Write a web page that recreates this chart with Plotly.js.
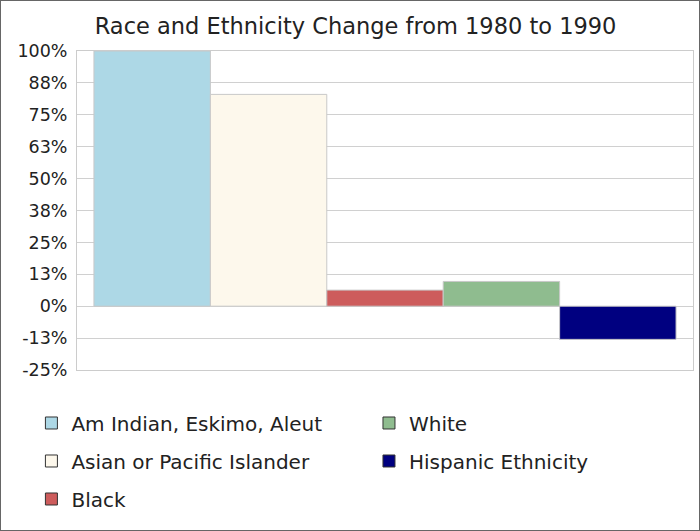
<!DOCTYPE html>
<html>
<head>
<meta charset="utf-8">
<script src="https://cdn.plot.ly/plotly-3.0.1.min.js"></script>
<style>
html,body{margin:0;padding:0;background:#fff;}
#wrap{width:700px;height:531px;box-sizing:border-box;border:1px solid #666;}
#chart{width:698px;height:529px;}
</style>
</head>
<body>
<div id="wrap"><div id="chart"></div></div>
<script>
var categories = ["1980 to 1990"];
var seriesNames = ["Am Indian, Eskimo, Aleut", "Asian or Pacific Islander", "Black", "White", "Hispanic Ethnicity"];
var seriesValues = [100, 83, 6.3, 9.7, -13];
var seriesColors = ["#ADD8E6", "#FDF8EC", "#CD5C5C", "#8FBC8F", "#000080"];
var seriesLegend = ["legend", "legend", "legend", "legend2", "legend2"];
var tickValues = [-25, -12.5, 0, 12.5, 25, 37.5, 50, 62.5, 75, 87.5, 100];
var tickLabels = ["-25%", "-13%", "0%", "13%", "25%", "38%", "50%", "63%", "75%", "88%", "100%"];

var font = "DejaVu Sans, Verdana, sans-serif";
var traces = seriesNames.map(function(name, i){
  return {
    type: "bar",
    name: name,
    x: categories,
    y: [seriesValues[i]],
    marker: {color: seriesColors[i], line: {color: "#c8c8c8", width: 1}},
    showlegend: false,
    hoverinfo: "name+y"
  };
});
// legend-only entries (dark swatch outline), on a hidden overlay axis so they don't affect bar grouping
var legendTraces = seriesNames.map(function(name, i){
  return {
    type: "bar",
    name: name,
    x: categories,
    y: [null],
    xaxis: "x2", yaxis: "y2",
    marker: {color: seriesColors[i], line: {color: "#333333", width: 1}},
    legend: seriesLegend[i],
    legendgroup: "g" + i,
    showlegend: true,
    hoverinfo: "skip"
  };
});

var layout = {
  width: 698, height: 529,
  margin: {l: 76, r: 6, t: 50, b: 160},
  paper_bgcolor: "#fff", plot_bgcolor: "#fff",
  font: {family: font, color: "#222", size: 16},
  title: {text: "Race and Ethnicity Change from 1980 to 1990", font: {family: font, size: 22.5, color: "#222"},
          xref: "container", x: 0.508, xanchor: "center", yref: "container", y: 0.953, yanchor: "middle"},
  barmode: "group",
  bargap: 0.055,
  bargroupgap: 0,
  showlegend: true,
  xaxis: {showticklabels: false, showgrid: false, zeroline: false, showline: true, mirror: true, linecolor: "#cccccc", linewidth: 1, ticks: ""},
  yaxis: {range: [-25, 100], tickmode: "array", tickvals: tickValues, ticktext: tickLabels,
          showgrid: true, gridcolor: "#d0d0d0", gridwidth: 1, zeroline: false,
          showline: true, mirror: true, linecolor: "#cccccc", linewidth: 1,
          ticks: "", ticklabelstandoff: 5, tickfont: {family: font, size: 17.5, color: "#222"}, fixedrange: true},
  xaxis2: {overlaying: "x", visible: false, showgrid: false, zeroline: false},
  yaxis2: {overlaying: "y", visible: false, showgrid: false, zeroline: false, range: [0, 1]},
  legend: {x: -0.074, xanchor: "left", y: -0.105, yanchor: "top", orientation: "v",
           font: {family: font, size: 20, color: "#222"}, tracegroupgap: 9, bgcolor: "rgba(0,0,0,0)", traceorder: "grouped"},
  legend2: {x: 0.474, xanchor: "left", y: -0.105, yanchor: "top", orientation: "v",
           font: {family: font, size: 20, color: "#222"}, tracegroupgap: 9, bgcolor: "rgba(0,0,0,0)", traceorder: "grouped"}
};

Plotly.newPlot("chart", traces.concat(legendTraces), layout, {displayModeBar: false, responsive: false});
</script>
</body>
</html>
